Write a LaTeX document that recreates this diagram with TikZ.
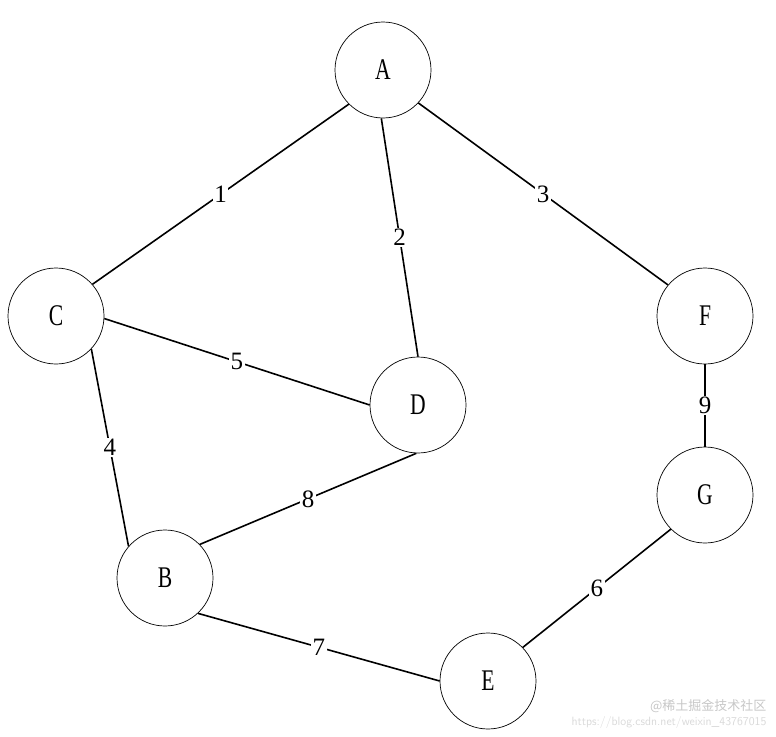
\documentclass[tikz,border=0pt]{standalone}
\usepackage{fontspec}
\setmainfont{Liberation Serif}
\newfontfamily\cjk{Noto Sans CJK SC}
\begin{document}
\begin{tikzpicture}[x=1pt,y=-1pt,
  vtx/.style={circle,draw,line width=0.7pt,minimum size=96pt,inner sep=0pt,font=\fontsize{30}{30}\selectfont},
  edge/.style={line width=1.6pt},
  wt/.style={fill=white,inner sep=1.5pt,font=\fontsize{25}{25}\selectfont}]
\useasboundingbox (0,0) rectangle (776,736);
\node[vtx] (A) at (383,70) {\scalebox{0.72}[1]{A}};
\node[vtx] (C) at (56,316) {\scalebox{0.72}[1]{C}};
\node[vtx] (D) at (418,405) {\scalebox{0.72}[1]{D}};
\node[vtx] (F) at (705,316) {\scalebox{0.72}[1]{F}};
\node[vtx] (G) at (705,495) {\scalebox{0.72}[1]{G}};
\node[vtx] (B) at (165,578) {\scalebox{0.72}[1]{B}};
\node[vtx] (E) at (488,681) {\scalebox{0.72}[1]{E}};
\draw[edge] (A.225) -- node[wt]{1} (C.41);
\draw[edge] (A.268) -- node[wt]{2} (D.90);
\draw[edge] (A.317) -- node[wt]{3} (F.140);
\draw[edge] (C.357) -- node[wt]{5} (D.180);
\draw[edge] (C.317) -- node[wt]{4} (B.139);
\draw[edge] (D.268) -- node[wt]{8} (B.44);
\draw[edge] (F) -- node[wt]{9} (G);
\draw[edge] (G.225) -- node[wt]{6} (E.44);
\draw[edge] (B.313) -- node[wt]{7} (E.180);
\node[anchor=east,text=black!22,font=\cjk\fontsize{13}{13}\selectfont] (wm1) at (770,706) {@稀土掘金技术社区};
\node[anchor=east,text=black!15,font=\sffamily\fontsize{12}{12}\selectfont] (wm2) at (770,722) {https://blog.csdn.net/weixin\_43767015};
\end{tikzpicture}
\end{document}
